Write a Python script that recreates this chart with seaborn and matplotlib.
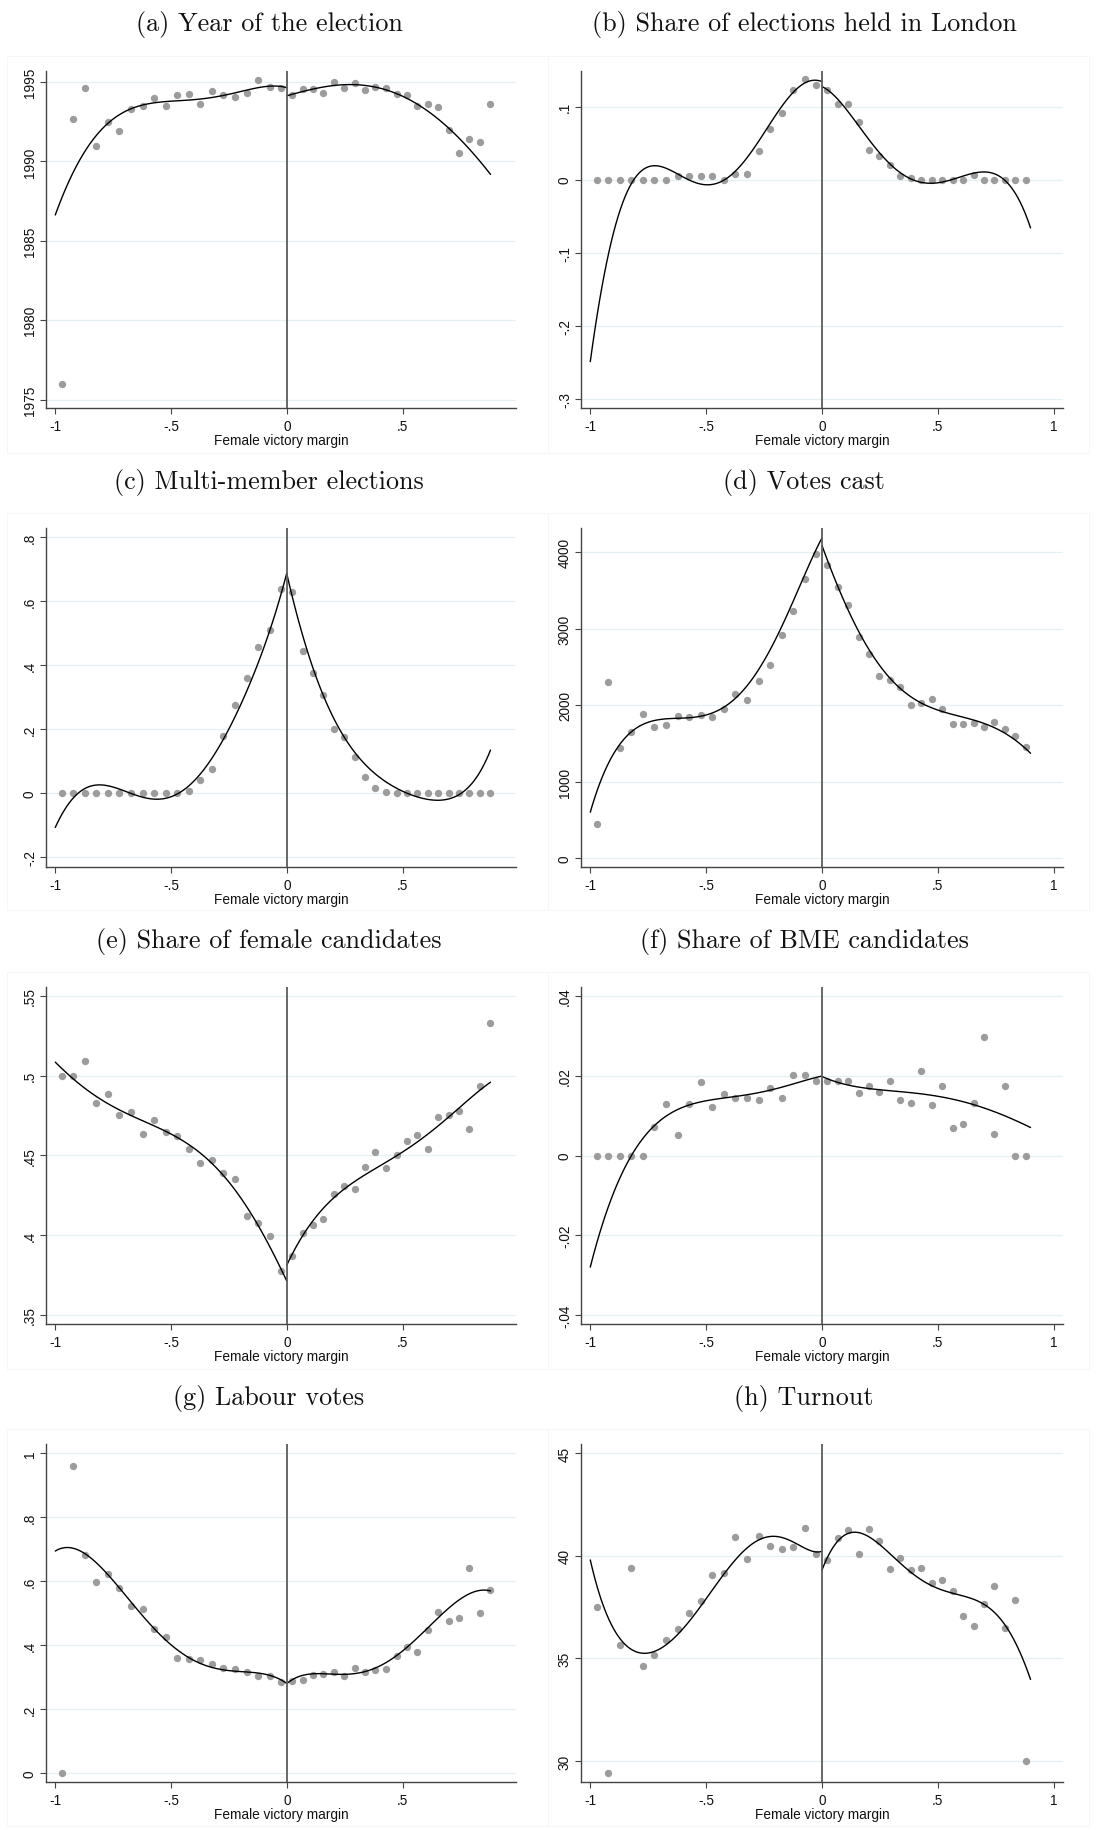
import matplotlib
matplotlib.use("Agg")
import matplotlib.pyplot as plt
import numpy as np
import seaborn as sns
from matplotlib.patches import Rectangle

# bin centres (female victory margin)
BIN_LEFT_X = [-0.972, -0.922, -0.872, -0.823, -0.773, -0.723, -0.673, -0.623, -0.573, -0.523,
              -0.473, -0.423, -0.374, -0.324, -0.274, -0.224, -0.174, -0.124, -0.074, -0.024]
BIN_RIGHT_X = [0.023, 0.068, 0.113, 0.158, 0.203, 0.248, 0.293, 0.338, 0.383, 0.428,
               0.474, 0.519, 0.564, 0.609, 0.654, 0.699, 0.744, 0.789, 0.834, 0.879]

# (a) Year of the election
A_LEFT = [1976.0, 1992.7, 1994.65, 1991.0, 1992.45, 1991.9, 1993.3, 1993.5, 1994.0, 1993.5,
          1994.2, 1994.25, 1993.6, 1994.45, 1994.2, 1994.05, 1994.3, 1995.1, 1994.7, 1994.6]
A_RIGHT = [1994.2, 1994.55, 1994.55, 1994.3, 1995.0, 1994.6, 1994.95, 1994.5, 1994.7, 1994.6,
           1994.25, 1994.15, 1993.5, 1993.6, 1993.45, 1992.0, 1990.55, 1991.4, 1991.25, 1993.6]
A_FIT_LX = [-1.0, -0.95, -0.878, -0.806, -0.734, -0.662, -0.518, -0.374, -0.23, -0.086, 0.0]
A_FIT_LY = [1986.7, 1988.3, 1990.55, 1992.0, 1992.8, 1993.35, 1993.75, 1993.95, 1994.3, 1994.7, 1994.65]
A_FIT_RX = [0.0, 0.1, 0.2, 0.3, 0.4, 0.5, 0.6, 0.7, 0.8, 0.88]
A_FIT_RY = [1994.12, 1994.54, 1994.75, 1994.8, 1994.64, 1994.12, 1993.28, 1992.0, 1990.66, 1989.16]

# (b) Share of elections held in London
B_LEFT = [0, 0, 0, 0, 0, 0, 0, 0.0055, 0.0055, 0.005,
          0.0045, 0, 0.008, 0.008, 0.0395, 0.0695, 0.091, 0.123, 0.137, 0.129]
B_RIGHT = [0.122, 0.103, 0.103, 0.0795, 0.040, 0.033, 0.020, 0.005, 0.0027, 0,
           0, 0, 0, 0, 0.0064, 0, 0, 0, 0, 0]
B_FIT_LX = [-1.0, -0.95, -0.9, -0.85, -0.8, -0.72, -0.6, -0.5, -0.4, -0.3, -0.2, -0.1, -0.04, 0.0]
B_FIT_LY = [-0.248, -0.149, -0.072, -0.022, 0.0055, 0.017, 0.0055, -0.007, 0.003, 0.042, 0.087, 0.127, 0.136, 0.134]
B_FIT_RX = [0.0, 0.1, 0.2, 0.3, 0.4, 0.47, 0.6, 0.7, 0.8, 0.9]
B_FIT_RY = [0.127, 0.099, 0.055, 0.019, 0.0, -0.0045, 0.003, 0.011, -0.004, -0.066]

# (c) Multi-member elections
C_LEFT = [0, 0, 0, 0, 0, 0, 0, 0, 0, 0,
          0, 0.006, 0.042, 0.077, 0.179, 0.277, 0.361, 0.456, 0.509, 0.640]
C_RIGHT = [0.630, 0.446, 0.376, 0.306, 0.202, 0.176, 0.115, 0.052, 0.016, 0.004,
           0, 0, 0, 0, 0, 0, 0, 0, 0, 0]
C_FIT_LX = [-1.0, -0.95, -0.9, -0.82, -0.7, -0.6, -0.55, -0.45, -0.4, -0.3, -0.2, -0.1, -0.05, 0.0]
C_FIT_LY = [-0.108, -0.038, 0.004, 0.020, 0.009, -0.0125, -0.017, 0.006, 0.035, 0.140, 0.277, 0.452, 0.561, 0.689]
C_FIT_RX = [0.0, 0.05, 0.1, 0.2, 0.3, 0.4, 0.5, 0.65, 0.75, 0.8, 0.88]
C_FIT_RY = [0.689, 0.535, 0.421, 0.244, 0.119, 0.048, 0.009, -0.021, -0.001, 0.030, 0.136]

# (d) Votes cast
D_LEFT = [454, 2303, 1444, 1645, 1880, 1714, 1745, 1863, 1845, 1871,
          1850, 1954, 2146, 2072, 2312, 2521, 2918, 3228, 3647, 3969]
D_RIGHT = [3826, 3546, 3302, 2896, 2665, 2382, 2334, 2242, 2007, 2033,
           2085, 1945, 1758, 1749, 1767, 1719, 1775, 1684, 1592, 1448]
D_FIT_LX = [-1.0, -0.95, -0.9, -0.8, -0.7, -0.6, -0.5, -0.4, -0.3, -0.2, -0.1, -0.05, 0.0]
D_FIT_LY = [606, 1034, 1383, 1688, 1819, 1841, 1854, 2037, 2342, 2866, 3520, 3878, 4183]
D_FIT_RX = [0.0, 0.05, 0.1, 0.2, 0.3, 0.4, 0.5, 0.6, 0.7, 0.8, 0.9]
D_FIT_RY = [4087, 3673, 3346, 2735, 2321, 2081, 1950, 1841, 1754, 1623, 1370]

# (e) Share of female candidates
E_LEFT = [0.500, 0.500, 0.5092, 0.4825, 0.4883, 0.475, 0.477, 0.4635, 0.4724, 0.4645,
          0.462, 0.4541, 0.4453, 0.4468, 0.4392, 0.4349, 0.4117, 0.4075, 0.3992, 0.3777]
E_RIGHT = [0.3871, 0.4013, 0.4061, 0.4102, 0.4259, 0.4307, 0.4288, 0.443, 0.4518, 0.442,
           0.4501, 0.4593, 0.4628, 0.4537, 0.4739, 0.475, 0.4775, 0.4666, 0.4933, 0.5332]
E_FIT_LX = [-1.0, -0.9, -0.8, -0.7, -0.6, -0.5, -0.4, -0.3, -0.2, -0.1, -0.05, 0.0]
E_FIT_LY = [0.5086, 0.4946, 0.4852, 0.4772, 0.4701, 0.463, 0.4539, 0.4424, 0.4236, 0.3996, 0.386, 0.3714]
E_FIT_RX = [0.0, 0.05, 0.1, 0.2, 0.3, 0.4, 0.5, 0.6, 0.7, 0.8, 0.88]
E_FIT_RY = [0.3812, 0.3954, 0.4058, 0.4236, 0.434, 0.4434, 0.4518, 0.4622, 0.4747, 0.4862, 0.496]

# (f) Share of BME candidates
F_LEFT = [0, 0, 0, 0, 0, 0.0072, 0.013, 0.0051, 0.0128, 0.0184,
          0.0121, 0.0155, 0.0144, 0.0143, 0.0139, 0.017, 0.0143, 0.0202, 0.0202, 0.0187]
F_RIGHT = [0.0187, 0.0187, 0.0186, 0.0157, 0.0174, 0.0158, 0.0186, 0.0138, 0.0132, 0.0212,
           0.0126, 0.0174, 0.007, 0.008, 0.0131, 0.0298, 0.0053, 0.0173, 0, 0]
F_FIT_LX = [-1.0, -0.95, -0.9, -0.85, -0.8, -0.7, -0.6, -0.5, -0.4, -0.3, -0.2, -0.1, 0.0]
F_FIT_LY = [-0.028, -0.0176, -0.0093, -0.0034, 0.0024, 0.0087, 0.012, 0.0137, 0.0147, 0.0153, 0.0168, 0.0183, 0.0199]
F_FIT_RX = [0.0, 0.1, 0.2, 0.3, 0.4, 0.5, 0.6, 0.7, 0.8, 0.9]
F_FIT_RY = [0.0198, 0.0178, 0.0168, 0.0162, 0.0156, 0.0148, 0.0137, 0.0118, 0.0097, 0.007]

# (g) Labour votes
G_LEFT = [0.0, 0.959, 0.682, 0.596, 0.624, 0.580, 0.521, 0.5125, 0.452, 0.427,
          0.359, 0.357, 0.355, 0.342, 0.328, 0.324, 0.317, 0.305, 0.303, 0.286]
G_RIGHT = [0.2875, 0.292, 0.308, 0.310, 0.315, 0.302, 0.329, 0.315, 0.323, 0.324,
           0.365, 0.394, 0.377, 0.448, 0.504, 0.477, 0.486, 0.641, 0.500, 0.572]
G_FIT_LX = [-1.0, -0.95, -0.9, -0.8, -0.7, -0.6, -0.5, -0.4, -0.3, -0.2, -0.1, 0.0]
G_FIT_LY = [0.696, 0.703, 0.696, 0.644, 0.560, 0.472, 0.399, 0.352, 0.328, 0.318, 0.308, 0.281]
G_FIT_RX = [0.0, 0.05, 0.1, 0.2, 0.3, 0.4, 0.5, 0.6, 0.7, 0.8, 0.88]
G_FIT_RY = [0.281, 0.300, 0.308, 0.310, 0.316, 0.331, 0.378, 0.451, 0.519, 0.560, 0.571]

# (h) Turnout
H_LEFT = [37.50, 29.43, 35.68, 39.43, 34.64, 35.16, 35.88, 36.43, 37.22, 37.82,
          39.09, 39.16, 40.94, 39.85, 40.99, 40.47, 40.34, 40.45, 41.38, 40.10]
H_RIGHT = [39.82, 40.86, 41.25, 40.10, 41.30, 40.71, 39.35, 39.90, 39.30, 39.43,
           38.67, 38.81, 38.28, 37.05, 36.59, 37.66, 38.51, 36.48, 37.87, 30.02]
H_FIT_LX = [-1.0, -0.95, -0.9, -0.85, -0.78, -0.7, -0.6, -0.5, -0.4, -0.3, -0.2, -0.1, 0.0]
H_FIT_LY = [39.82, 37.74, 36.44, 35.71, 35.28, 35.50, 36.36, 37.91, 39.53, 40.58, 40.88, 40.58, 40.21]
H_FIT_RX = [0.0, 0.05, 0.1, 0.15, 0.2, 0.3, 0.4, 0.5, 0.6, 0.7, 0.8, 0.9]
H_FIT_RY = [39.29, 40.50, 41.02, 41.12, 40.91, 40.10, 39.04, 38.39, 38.07, 37.66, 36.44, 33.98]

TITLES = ["(a) Year of the election", "(b) Share of elections held in London",
          "(c) Multi-member elections", "(d) Votes cast",
          "(e) Share of female candidates", "(f) Share of BME candidates",
          "(g) Labour votes", "(h) Turnout"]

Y_TICKS = [[1975, 1980, 1985, 1990, 1995], [-0.3, -0.2, -0.1, 0, 0.1],
           [-0.2, 0, 0.2, 0.4, 0.6, 0.8], [0, 1000, 2000, 3000, 4000],
           [0.35, 0.4, 0.45, 0.5, 0.55], [-0.04, -0.02, 0, 0.02, 0.04],
           [0, 0.2, 0.4, 0.6, 0.8, 1], [30, 35, 40, 45]]
Y_LABELS = [["1975", "1980", "1985", "1990", "1995"], ["-.3", "-.2", "-.1", "0", ".1"],
            ["-.2", "0", ".2", ".4", ".6", ".8"], ["0", "1000", "2000", "3000", "4000"],
            [".35", ".4", ".45", ".5", ".55"], ["-.04", "-.02", "0", ".02", ".04"],
            ["0", ".2", ".4", ".6", ".8", "1"], ["30", "35", "40", "45"]]
Y_LIMS = [(1974.48, 1995.69), (-0.312, 0.1486), (-0.230, 0.829), (-113, 4314),
          (0.3443, 0.5555), (-0.0422, 0.0422), (-0.028, 1.029), (28.98, 45.45)]

PANELS = [
    (A_LEFT, A_RIGHT, A_FIT_LX, A_FIT_LY, A_FIT_RX, A_FIT_RY),
    (B_LEFT, B_RIGHT, B_FIT_LX, B_FIT_LY, B_FIT_RX, B_FIT_RY),
    (C_LEFT, C_RIGHT, C_FIT_LX, C_FIT_LY, C_FIT_RX, C_FIT_RY),
    (D_LEFT, D_RIGHT, D_FIT_LX, D_FIT_LY, D_FIT_RX, D_FIT_RY),
    (E_LEFT, E_RIGHT, E_FIT_LX, E_FIT_LY, E_FIT_RX, E_FIT_RY),
    (F_LEFT, F_RIGHT, F_FIT_LX, F_FIT_LY, F_FIT_RX, F_FIT_RY),
    (G_LEFT, G_RIGHT, G_FIT_LX, G_FIT_LY, G_FIT_RX, G_FIT_RY),
    (H_LEFT, H_RIGHT, H_FIT_LX, H_FIT_LY, H_FIT_RX, H_FIT_RY),
]

W, H = 1096, 1831
ROWS = [(72, 409), (529, 868), (988, 1325), (1445, 1783)]
COLS = [(46, 516), (581, 1063)]
TITLE_Y = [25, 483, 942, 1399]
TITLE_X = [269, 804]

sns.set_theme(style="white")
plt.rcParams["font.family"] = ["Liberation Sans", "DejaVu Sans"]

fig = plt.figure(figsize=(W / 100, H / 100), dpi=100)

# very faint stata graph-region borders
for r in range(4):
    for c in range(2):
        x0 = 7 if c == 0 else 548
        fig.patches.append(Rectangle((x0 / W, 1 - (ROWS[r][0] + 382) / H),
                                     541 / W, 397 / H, transform=fig.transFigure,
                                     fill=False, edgecolor="#f5f6f7", lw=0.7))

for k, (lefty, righty, flx, fly, frx, fry) in enumerate(PANELS):
    r, c = divmod(k, 2)
    top, bot = ROWS[r]
    x0, x1 = COLS[c]
    ax = fig.add_axes([x0 / W, 1 - bot / H, (x1 - x0) / W, (bot - top) / H])

    for yv in Y_TICKS[k]:
        ax.axhline(yv, color="#e6eff2", lw=0.9, zorder=0)

    sns.scatterplot(x=BIN_LEFT_X, y=lefty, ax=ax, color="#9c9c9c", s=28,
                    linewidth=0, zorder=2)
    sns.scatterplot(x=BIN_RIGHT_X, y=righty, ax=ax, color="#9c9c9c", s=28,
                    linewidth=0, zorder=2)
    order_l = 6 if len(flx) > 12 else 5
    order_r = 6 if len(frx) > 11 else 5
    sns.regplot(x=np.array(flx), y=np.array(fly), ax=ax, order=order_l, scatter=False,
                ci=None, truncate=True, line_kws=dict(color="black", lw=1.0, zorder=3))
    sns.regplot(x=np.array(frx), y=np.array(fry), ax=ax, order=order_r, scatter=False,
                ci=None, truncate=True, line_kws=dict(color="black", lw=1.0, zorder=3))
    ax.axvline(0, color="#5c5c5c", lw=1.3, zorder=4)

    ax.set_xlim(-1.04, 0.99 if c == 0 else 1.04)
    ax.set_ylim(*Y_LIMS[k])
    if c == 0:
        ax.set_xticks([-1, -0.5, 0, 0.5])
        ax.set_xticklabels(["-1", "-.5", "0", ".5"])
    else:
        ax.set_xticks([-1, -0.5, 0, 0.5, 1])
        ax.set_xticklabels(["-1", "-.5", "0", ".5", "1"])
    ax.set_yticks(Y_TICKS[k])
    ax.set_yticklabels(Y_LABELS[k], rotation=90, va="center")

    for side in ["top", "right"]:
        ax.spines[side].set_visible(False)
    for side in ["left", "bottom"]:
        ax.spines[side].set_color("#444444")
        ax.spines[side].set_linewidth(1.0)
    ax.tick_params(axis="both", which="major", length=4, width=0.8, color="#444444",
                   labelsize=9.8, labelcolor="#111111", bottom=True, left=True)
    ax.tick_params(axis="x", pad=4.0)
    ax.tick_params(axis="y", pad=2.5)
    ax.set_xlabel("Female victory margin", fontsize=9.8, color="#111111", labelpad=0)
    ax.set_ylabel("")
    ax.grid(False)

    fig.text(TITLE_X[c] / W, 1 - TITLE_Y[r] / H, TITLES[k], family="cmr10",
             fontsize=18.8, ha="center", va="center", color="#111111")

fig.savefig("out.png", dpi=100, facecolor="white")
